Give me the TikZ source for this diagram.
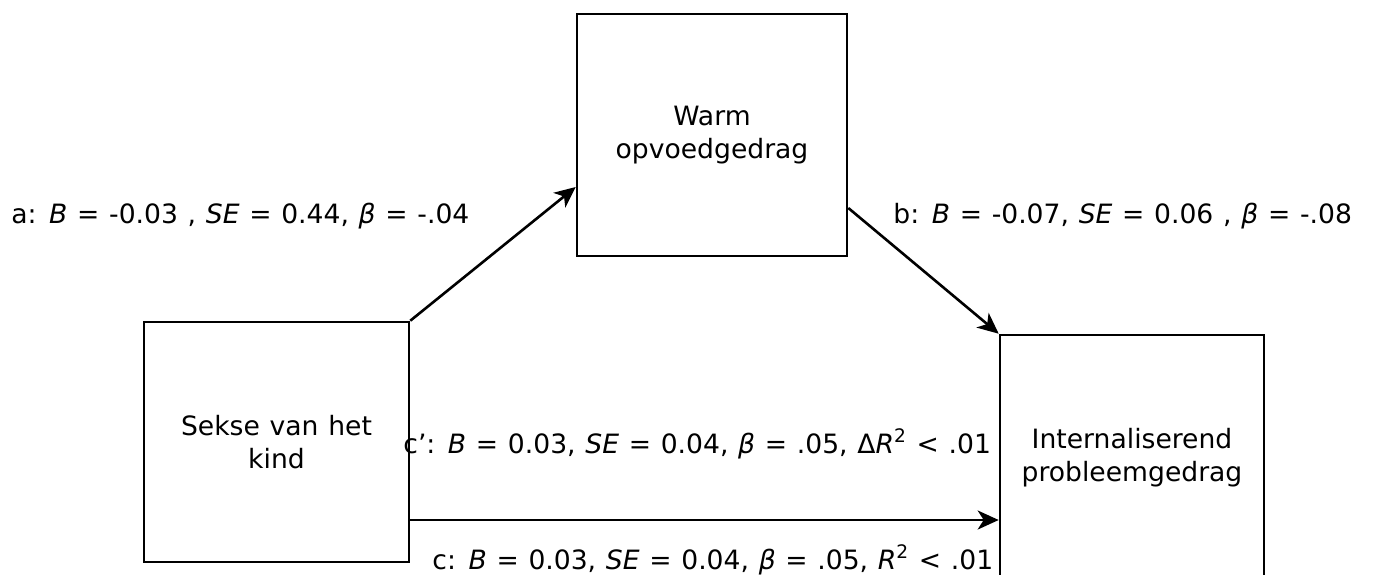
\documentclass[tikz,border=0pt]{standalone}
\usepackage{fontspec}
\setmainfont[WordSpace=1.15]{DejaVu Sans}
\usetikzlibrary{arrows.meta,calc}
\begin{document}
\begin{tikzpicture}[x=0.5pt,y=-0.5pt,
  box/.style={draw,line width=1.3pt,align=center,inner sep=0pt,font=\fontsize{13.3pt}{16.5pt}\selectfont},
  conn/.style={line width=1.3pt,-{Stealth[length=10.5pt,width=9.5pt,inset=3pt]}},
  lab/.style={inner sep=0pt,font=\fontsize{13.3pt}{16.5pt}\selectfont}]
\useasboundingbox (0,0) rectangle (1378,574);
\clip (0,0) rectangle (1378,574);
\node[box,minimum width=135pt,minimum height=121pt] (w) at (712,135) {Warm\\opvoedgedrag};
\node[box,minimum width=132.5pt,minimum height=120pt] (s) at (276.5,442) {Sekse van het\\kind};
\node[box,minimum width=132pt,minimum height=123pt] (i) at (1132,458) {Internaliserend\\probleemgedrag};
\draw[conn] (s.north east) -- ([yshift=-26pt]w.west);
\draw[conn] ([yshift=-36.5pt]w.east) -- (i.north west);
\draw[conn] ([yshift=-39pt]s.east) -- ([yshift=-39pt]s.east -| i.west);
\node[lab,anchor=base west] (la) at (11,223) {a: \textit{B} = -0.03 , \textit{SE} = 0.44, \textit{β} = -.04};
\node[lab,anchor=base west] (lb) at (893,223) {b: \textit{B} = -0.07, \textit{SE} = 0.06 , \textit{β} = -.08};
\node[lab,anchor=base west] (lc1) at (403,453) {c’: \textit{B} = 0.03, \textit{SE} = 0.04, \textit{β} = .05, Δ\textit{R}\textsuperscript{2} < .01};
\node[lab,anchor=base west] (lc) at (432,569) {c: \textit{B} = 0.03, \textit{SE} = 0.04, \textit{β} = .05, \textit{R}\textsuperscript{2} < .01};
\end{tikzpicture}
\end{document}
